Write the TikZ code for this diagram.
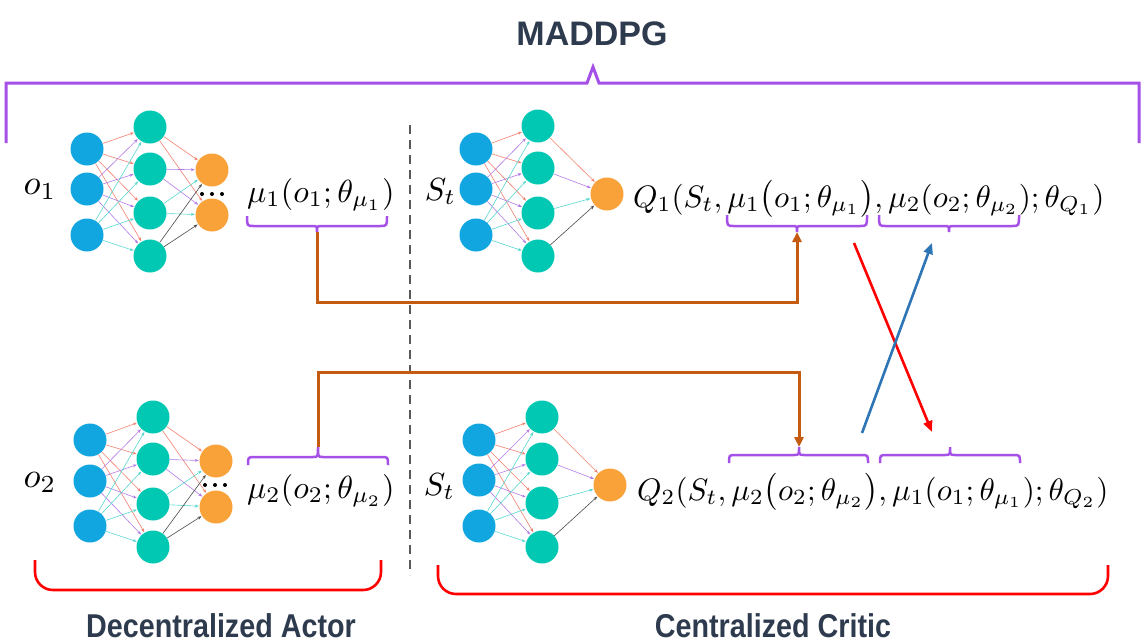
\documentclass[tikz,border=0pt]{standalone}
\usepackage{fontspec}
\usetikzlibrary{arrows.meta}
\newfontfamily\ttlfont{Liberation Sans Bold}
\newfontfamily\lblfont[FakeStretch=0.87]{Liberation Sans Bold}
\definecolor{cin}{HTML}{12A6E0}
\definecolor{chid}{HTML}{00C8B2}
\definecolor{cout}{HTML}{F9A23A}
\definecolor{ecA}{HTML}{F2806E}
\definecolor{ecB}{HTML}{B27AE6}
\definecolor{ecC}{HTML}{55D6CE}
\definecolor{ecD}{HTML}{4A4A4A}
\definecolor{purp}{HTML}{A550E6}
\definecolor{brn}{HTML}{C55A11}
\definecolor{bluar}{HTML}{2E75B6}
\definecolor{txtc}{HTML}{2E3B4E}
\newcommand{\bm}[2][3.2]{\scalebox{#1}{$#2$}}
\newcommand{\actornet}[8]{%
  \foreach \yy [count=\i] in {#3} \node[inp] (#1i\i) at (#2,\yy) {};
  \foreach \yy [count=\i] in {#5} \node[hid] (#1h\i) at (#4,\yy) {};
  \foreach \yy [count=\i] in {#7} \node[outn] (#1o\i) at (#6,\yy) {};
  \foreach \i/\c in {1/ecA,2/ecB,3/ecC}
    \foreach \j in {1,...,4} \draw[edge,\c] (#1i\i) -- (#1h\j);
  \foreach \j/\c in {1/ecA,2/ecB,3/ecC,4/ecD}
    \foreach \k in {#8} \draw[edge,\c] (#1h\j) -- (#1o\k);
}
% brace: x1, x2, yend, yline, xc, ynotch, name
\newcommand{\mybrace}[7]{%
  \draw[brc] (#1,#3) .. controls (#1,#4) .. (#1+7,#4) -- (#5-5,#4)
    .. controls (#5,#4) .. (#5,#6) .. controls (#5,#4) .. (#5+5,#4)
    -- (#2-7,#4) .. controls (#2,#4) .. (#2,#3);
  \coordinate (#7) at (#5,#6);
}
\begin{document}
\begin{tikzpicture}[x=1pt,y=-1pt,
  inp/.style={circle,fill=cin,minimum size=33pt,inner sep=0pt},
  hid/.style={circle,fill=chid,minimum size=33pt,inner sep=0pt},
  outn/.style={circle,fill=cout,minimum size=33pt,inner sep=0pt},
  edge/.style={line width=0.6pt,-{Stealth[length=4pt,width=3pt]},shorten >=0.5pt},
  brc/.style={purp,line width=2.5pt},
  mth/.style={inner sep=0pt},
  lbl/.style={inner sep=0pt,text=txtc,font=\lblfont\fontsize{33}{38}\selectfont},
  brnarr/.style={brn,line width=3pt,-{Triangle[length=10pt,width=9pt]}},
  crossarr/.style={line width=2.6pt,-{Triangle[length=11pt,width=9pt]}},
  redbr/.style={red,line width=2.6pt,rounded corners=18pt}
]
\useasboundingbox (0,0) rectangle (1145,643);

% title and top bracket
\node[inner sep=0pt,text=txtc,font=\ttlfont\fontsize{34}{40}\selectfont,anchor=base] (title) at (592,45) {MADDPG};
\draw[purp,line width=3pt] (6,143) -- (6,83) -- (587,83) -- (593,67) -- (599,83) -- (1139,83) -- (1139,143);

% dashed separator
\draw[black!65,line width=1.6pt,dash pattern=on 9pt off 6pt] (410,125) -- (410,575);

% networks
\actornet{A}{87}{149,189,235}{150}{127,169,213,256}{212}{170,215}{1,2}
\actornet{B}{90}{440,481,526}{153}{417,459,504,547}{216}{461,507}{1,2}
\actornet{C}{476}{149,189,235}{538}{126,168,213,256}{607}{194}{1}
\actornet{D}{479}{440,480,526}{542}{417,459,503,547}{610}{485}{1}
\foreach \xx in {202,212,222} \fill (\xx,194) circle (2pt);
\foreach \xx in {205,215,225} \fill (\xx,485) circle (2pt);

% labels
\node[mth,anchor=base] (o1) at (40,194) {\bm[3.5]{o_1}};
\node[mth,anchor=base] (o2) at (40,487) {\bm[3.5]{o_2}};
\node[mth,anchor=base west] (mu1) at (247,202) {\bm{\mu_1(o_1;\theta_{\mu_1})}};
\node[mth,anchor=base west] (mu2) at (247,498) {\bm{\mu_2(o_2;\theta_{\mu_2})}};
\node[mth,anchor=base east] (st1) at (456,200) {\bm{S_t}};
\node[mth,anchor=base east] (st2) at (455,495) {\bm{S_t}};
\node[mth,anchor=base west] (q1) at (633,207) {\bm[3.1]{Q_1(S_t,\mu_1\bigl(o_1;\theta_{\mu_1}\bigr),\mu_2(o_2;\theta_{\mu_2});\theta_{Q_1})}};
\node[mth,anchor=base west] (q2) at (637,500) {\bm[3.1]{Q_2(S_t,\mu_2\bigl(o_2;\theta_{\mu_2}\bigr),\mu_1(o_1;\theta_{\mu_1});\theta_{Q_2})}};

% braces
\mybrace{247}{387}{216}{226}{317}{232}{na1}
\mybrace{248}{388}{465}{457}{318}{447}{na2}
\mybrace{727}{867}{215}{226}{797}{232}{nq1a}
\mybrace{879}{1019}{215}{226}{949}{232}{nq1b}
\mybrace{729}{868}{463}{455}{799}{447}{nq2a}
\mybrace{880}{1020}{463}{455}{950}{447}{nq2b}

% brown connectors
\draw[brnarr] (na1) -- ++(0,70) -| (nq1a);
\draw[brnarr] (na2) -- ++(0,-75) -| (nq2a);

% crossing arrows
\coordinate (rs) at (854,243);
\coordinate (re) at (932,432);
\coordinate (bs) at (862,433);
\coordinate (be) at (932,243);
\draw[crossarr,red] (rs) -- (re);
\draw[crossarr,bluar] (bs) -- (be);

% bottom brackets
\draw[redbr] (35,560) -- (35,590) -- (381,590) -- (381,560);
\draw[redbr] (438,565) -- (438,594) -- (1108,594) -- (1108,565);
\node[lbl,anchor=base] (actor) at (221,637) {Decentralized Actor};
\node[lbl,anchor=base] (critic) at (773,637) {Centralized Critic};
\end{tikzpicture}
\end{document}
